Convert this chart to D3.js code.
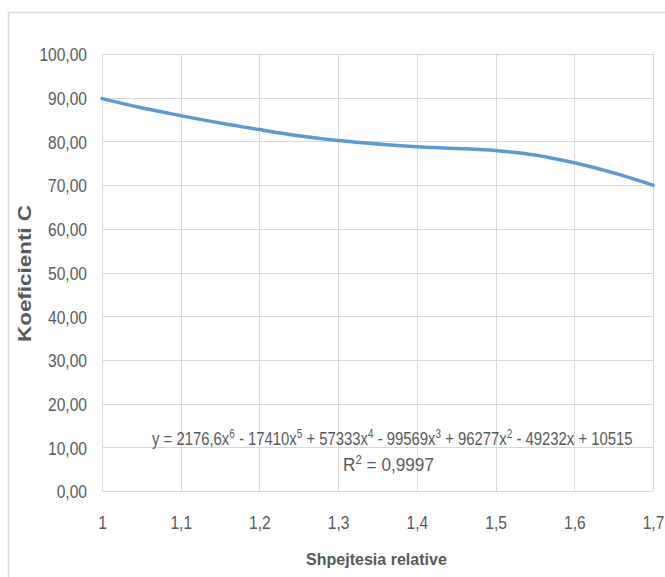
<!DOCTYPE html>
<html>
<head>
<meta charset="utf-8">
<script src="https://cdn.jsdelivr.net/npm/d3@7"></script>
<style>
  html, body { margin: 0; padding: 0; background: #fff; }
  svg { display: block; }
  text { font-family: "Liberation Sans", Arial, sans-serif; }
</style>
</head>
<body>
<svg id="chart" width="665" height="577"></svg>
<script>
// Relative speed (x) and coefficient C (y)
const speeds = [1.00, 1.05, 1.10, 1.15, 1.20, 1.25, 1.30, 1.35, 1.40, 1.45, 1.50, 1.55, 1.60, 1.65, 1.70];
const coefC  = [89.8, 87.7, 85.9, 84.2, 82.7, 81.3, 80.2, 79.4, 78.8, 78.4, 77.9, 76.9, 75.1, 72.8, 70.0];

const xTicks = [1, 1.1, 1.2, 1.3, 1.4, 1.5, 1.6, 1.7];
const yTicks = [0, 10, 20, 30, 40, 50, 60, 70, 80, 90, 100];

const xTitle = "Shpejtesia relative";
const yTitle = "Koeficienti C";
// polynomial trendline label: [base text, exponent]
const eqTerms = [
  ["y = 2176,6x", "6"], [" - 17410x", "5"], [" + 57333x", "4"], [" - 99569x", "3"],
  [" + 96277x", "2"], [" - 49232x + 10515", null]
];
const rSquared = "0,9997";

const svg = d3.select("#chart");
const plot = { left: 102, right: 653, top: 54, bottom: 491 };
const grey = "#595959";
const squeeze = 0.82;   // narrow letterforms for labels

const fmtX = v => String(+v.toFixed(1)).replace(".", ",");
const fmtY = v => v.toFixed(2).replace(".", ",");

// chart frame
svg.append("rect")
  .attr("x", 8.5).attr("y", 12.5)
  .attr("width", 720).attr("height", 620)
  .attr("fill", "#fff").attr("stroke", "#d9d9d9").attr("stroke-width", 1.5);

const x = d3.scaleLinear().domain([1, 1.7]).range([plot.left, plot.right]);
const y = d3.scaleLinear().domain([0, 100]).range([plot.bottom, plot.top]);

// gridlines
const grid = svg.append("g").attr("stroke", "#d9d9d9").attr("stroke-width", 1);
grid.selectAll("line.h").data(yTicks).join("line")
  .attr("x1", plot.left).attr("x2", plot.right)
  .attr("y1", d => Math.round(y(d)) + 0.5).attr("y2", d => Math.round(y(d)) + 0.5);
grid.selectAll("line.v").data(xTicks).join("line")
  .attr("y1", plot.top).attr("y2", plot.bottom)
  .attr("x1", d => Math.round(x(d)) + 0.5).attr("x2", d => Math.round(x(d)) + 0.5);

// y axis labels
const yAxis = svg.append("g")
  .attr("transform", `translate(${plot.left - 15},0)`)
  .call(d3.axisLeft(y).tickValues(yTicks).tickFormat(fmtY).tickSize(0).tickPadding(0));
yAxis.select(".domain").remove();
yAxis.selectAll("text")
  .attr("fill", grey).attr("font-size", 19).attr("dy", "0.36em")
  .attr("x", 0)
  .attr("transform", `scale(${squeeze},1)`);

// x axis labels
const xAxis = svg.append("g")
  .attr("transform", `translate(0,${plot.bottom})`)
  .call(d3.axisBottom(x).tickValues(xTicks).tickFormat(fmtX).tickSize(0));
xAxis.select(".domain").remove();
xAxis.selectAll("text")
  .attr("fill", grey).attr("font-size", 19).attr("dy", 0)
  .attr("y", 38)
  .attr("transform", `scale(${squeeze},1)`);

// series line
const line = d3.line()
  .x((d, i) => x(speeds[i]))
  .y(d => y(d))
  .curve(d3.curveMonotoneX);
svg.append("path")
  .datum(coefC)
  .attr("fill", "none")
  .attr("stroke", "#5b9bd5")
  .attr("stroke-width", 3.5)
  .attr("stroke-linecap", "round")
  .attr("d", line);

// fit a text element horizontally between two x positions
function fitBetween(t, x0, x1) {
  const w = t.node().getComputedTextLength();
  const s = (x1 - x0) / w;
  t.attr("x", 0).attr("text-anchor", "start")
   .attr("transform", `translate(${x0},0) scale(${s},1)`);
}

// trendline equation
const eq = svg.append("text")
  .attr("y", 445)
  .attr("fill", grey).attr("font-size", 18);
eqTerms.forEach(([base, sup], i) => {
  const prevSup = i > 0 && eqTerms[i - 1][1];
  eq.append("tspan").attr("dy", prevSup ? 7 : 0).text(base);
  if (sup) eq.append("tspan").attr("dy", -7).attr("font-size", 12).text(sup);
});
fitBetween(eq, 152, 633);

const r2 = svg.append("text")
  .attr("y", 471)
  .attr("fill", grey).attr("font-size", 18);
r2.append("tspan").text("R");
r2.append("tspan").attr("dy", -7).attr("font-size", 12).text("2");
r2.append("tspan").attr("dy", 7).text(" = " + rSquared);
fitBetween(r2, 343, 434);

// axis titles
const xt = svg.append("text")
  .attr("y", 565)
  .attr("fill", grey).attr("font-size", 17).attr("font-weight", "bold")
  .text(xTitle);
fitBetween(xt, 306, 447);

svg.append("text")
  .attr("transform", `translate(31,${(plot.top + plot.bottom) / 2 + 1}) rotate(-90)`)
  .attr("text-anchor", "middle")
  .attr("fill", grey).attr("font-size", 18).attr("font-weight", "bold")
  .attr("textLength", 137).attr("lengthAdjust", "spacingAndGlyphs")
  .text(yTitle);
</script>
</body>
</html>
